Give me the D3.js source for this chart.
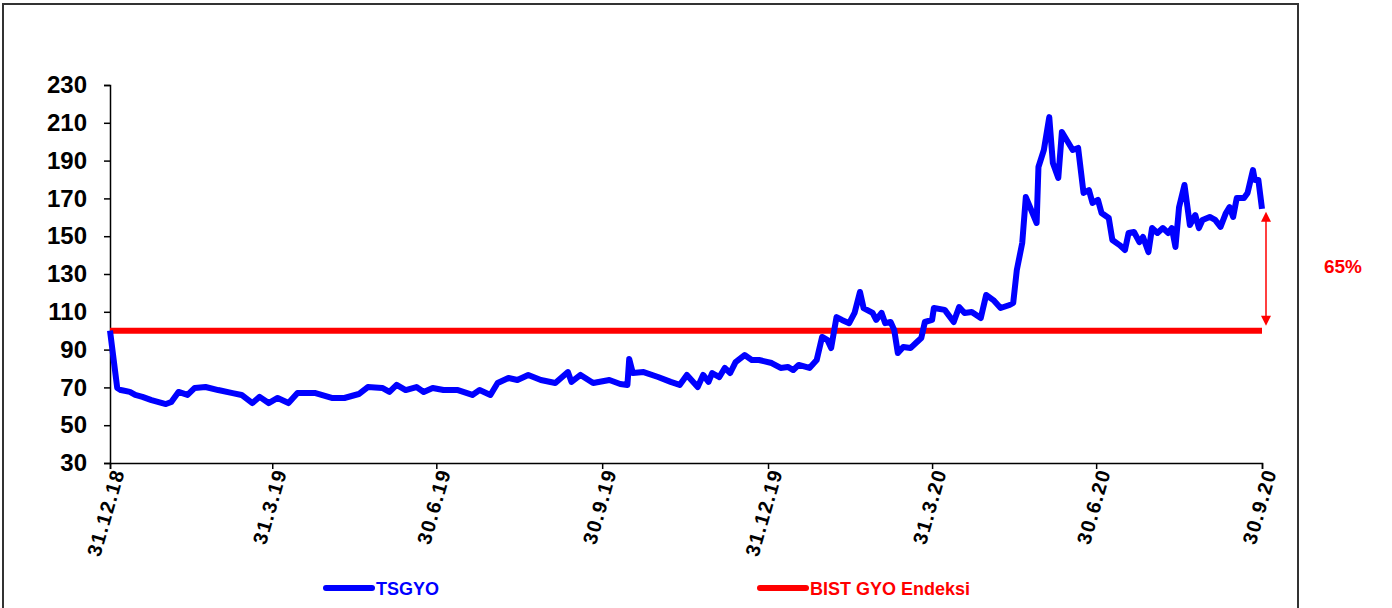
<!DOCTYPE html>
<html>
<head>
<meta charset="utf-8">
<script src="https://cdn.jsdelivr.net/npm/d3@7"></script>
<style>
  body { margin: 0; background: #fff; }
  text { font-family: "Liberation Sans", Arial, sans-serif; }
</style>
</head>
<body>
<div class="chart"></div>
<script>
// TSGYO price series
const tsgyoDates = [
  "2018-12-31","2019-01-04","2019-01-06","2019-01-11","2019-01-14","2019-01-18","2019-01-23","2019-01-31",
  "2019-02-03","2019-02-07","2019-02-12","2019-02-16","2019-02-22","2019-03-01","2019-03-09","2019-03-14",
  "2019-03-20","2019-03-24","2019-03-29","2019-04-03","2019-04-09","2019-04-14","2019-04-24","2019-05-03",
  "2019-05-10","2019-05-18","2019-05-23","2019-05-31","2019-06-04","2019-06-08","2019-06-13","2019-06-19",
  "2019-06-23","2019-06-28","2019-07-04","2019-07-12","2019-07-20","2019-07-24","2019-07-30","2019-08-03",
  "2019-08-09","2019-08-14","2019-08-20","2019-08-27","2019-09-04","2019-09-11","2019-09-13","2019-09-18",
  "2019-09-25","2019-10-04","2019-10-10","2019-10-14","2019-10-15","2019-10-17","2019-10-23","2019-10-31",
  "2019-11-07","2019-11-12","2019-11-16","2019-11-22","2019-11-25","2019-11-28","2019-11-30","2019-12-04",
  "2019-12-07","2019-12-10","2019-12-13","2019-12-18","2019-12-22","2019-12-26","2020-01-02","2020-01-07",
  "2020-01-11","2020-01-14","2020-01-17","2020-01-23","2020-01-27","2020-01-30","2020-02-02","2020-02-04",
  "2020-02-07","2020-02-10","2020-02-14","2020-02-17","2020-02-20","2020-02-22","2020-02-27","2020-02-29",
  "2020-03-03","2020-03-05","2020-03-08","2020-03-10","2020-03-12","2020-03-15","2020-03-19","2020-03-22",
  "2020-03-25","2020-03-27","2020-03-31","2020-04-01","2020-04-07","2020-04-12","2020-04-15","2020-04-18",
  "2020-04-22","2020-04-27","2020-04-30","2020-05-04","2020-05-08","2020-05-13","2020-05-15","2020-05-17",
  "2020-05-20","2020-05-22","2020-05-28","2020-05-29","2020-06-01","2020-06-04","2020-06-06","2020-06-09",
  "2020-06-11","2020-06-17","2020-06-20","2020-06-23","2020-06-26","2020-06-28","2020-07-01","2020-07-03",
  "2020-07-07","2020-07-09","2020-07-13","2020-07-16","2020-07-18","2020-07-21","2020-07-24","2020-07-26",
  "2020-07-29","2020-07-31","2020-08-03","2020-08-06","2020-08-09","2020-08-11","2020-08-13","2020-08-15",
  "2020-08-18","2020-08-21","2020-08-24","2020-08-26","2020-08-28","2020-09-01","2020-09-04","2020-09-07",
  "2020-09-10","2020-09-12","2020-09-14","2020-09-16","2020-09-20","2020-09-22","2020-09-25","2020-09-26",
  "2020-09-28","2020-09-30"
];
const tsgyoValues = [
  100, 69.7, 68.6, 67.6, 66, 65, 63.3, 61.2,
  62.3, 67.6, 66, 69.7, 70.2, 68.6, 67, 66,
  61.7, 65, 61.7, 64.4, 61.7, 67, 67, 64.4,
  64.4, 66.5, 70.2, 69.7, 67.6, 71.3, 68.6, 70.2,
  67.6, 69.7, 68.6, 68.6, 66, 68.6, 66, 72.3,
  75, 73.9, 76.6, 73.9, 72.3, 78.1, 72.9, 76.6,
  72.3, 73.9, 71.8, 71.3, 85, 77.6, 78.1, 75.5,
  72.9, 71.3, 76.6, 70.2, 76.6, 72.9, 77.6, 75.5,
  80.3, 77.6, 83.4, 87.1, 84.5, 84.5, 82.9, 80.3,
  80.8, 79.2, 81.9, 80.3, 84.5, 96.7, 95, 90.8,
  107.2, 105.7, 104, 109.4, 120.5, 112, 109.4, 105.7,
  109.4, 104, 104.6, 100.4, 88.2, 91.4, 90.8, 93.5,
  96.1, 104.6, 105.7, 112, 111, 104.6, 112.5, 109.4,
  109.9, 106.7, 118.9, 116.2, 112, 113.6, 114.7, 132.1,
  146.4, 170.7, 157, 186.6, 195.6, 213, 188.7, 180.8,
  205.1, 195.6, 196.7, 172.9, 174.4, 167.6, 169.2, 162.3,
  159.6, 148, 145.3, 142.7, 151.7, 152.2, 146.9, 149.6,
  141.6, 154.3, 151.7, 154.3, 151.7, 154.3, 144.3, 165.4,
  177.1, 155.9, 161.2, 154.3, 158.6, 160.2, 158.6, 154.9,
  162.3, 165.4, 160.2, 170.2, 170.2, 172.9, 185, 179.7,
  179.7, 164.5
];

// BIST GYO Endeksi, rebased to 100
const bistDates = ["2018-12-31", "2020-09-30"];
const bistValues = [100, 100];

const yTicks = [30, 50, 70, 90, 110, 130, 150, 170, 190, 210, 230];
const xTickDates = ["2018-12-31","2019-03-31","2019-06-30","2019-09-30","2019-12-31","2020-03-31","2020-06-30","2020-09-30"];
const xTickLabels = ["31.12.18","31.3.19","30.6.19","30.9.19","31.12.19","31.3.20","30.6.20","30.9.20"];

const seriesNames = ["TSGYO", "BIST GYO Endeksi"];
const seriesColors = ["#0000ff", "#ff0000"];
const diffLabel = "65%";

const parse = d3.timeParse("%Y-%m-%d");
const tsgyo = tsgyoDates.map((d, i) => ({date: parse(d), value: tsgyoValues[i]}));
const bist = bistDates.map((d, i) => ({date: parse(d), value: bistValues[i]}));

const width = 1392;
const height = 608;
const svg = d3.select('.chart')
  .append('svg')
  .attr('width', width)
  .attr('height', height);

// outer frame
svg.append("rect")
  .attr("x", 3).attr("y", 4)
  .attr("width", 1295).attr("height", 640)
  .attr("fill", "none")
  .attr("stroke", "#333")
  .attr("stroke-width", 2);

const x = d3.scaleTime()
  .domain([parse("2018-12-31"), parse("2020-09-30")])
  .range([110, 1262]);
const y = d3.scaleLinear()
  .domain([30, 230])
  .range([463, 85]);

// y axis
const yAxis = svg.append("g")
  .attr("transform", "translate(110,0)")
  .call(d3.axisLeft(y).tickValues(yTicks).tickSize(6).tickPadding(17));
yAxis.selectAll("text")
  .attr("font-size", 24)
  .attr("font-weight", "bold")
  .attr("fill", "#000");

// x axis
const xAxis = svg.append("g")
  .attr("transform", "translate(0,463)")
  .call(d3.axisBottom(x)
    .tickValues(xTickDates.map(parse))
    .tickSize(6)
    .tickFormat((d, i) => xTickLabels[i]));
xAxis.selectAll("text")
  .attr("font-size", 20)
  .attr("font-weight", "bold")
  .attr("letter-spacing", 1.5)
  .attr("fill", "#000")
  .attr("text-anchor", "end")
  .attr("dy", "0.35em")
  .attr("transform", "translate(-1,4) rotate(-74)");

svg.selectAll(".domain, .tick line")
  .attr("stroke", "#000")
  .attr("stroke-width", 1.5);

const line = d3.line()
  .x(d => x(d.date))
  .y(d => y(d.value));

svg.append("path")
  .datum(bist)
  .attr("d", line)
  .attr("fill", "none")
  .attr("stroke", seriesColors[1])
  .attr("stroke-width", 6);

svg.append("path")
  .datum(tsgyo)
  .attr("d", line)
  .attr("fill", "none")
  .attr("stroke", seriesColors[0])
  .attr("stroke-width", 6)
  .attr("stroke-linejoin", "round");

// difference arrow
const last = tsgyo[tsgyo.length - 1];
const ax = x(last.date) + 4;
const yTop = y(last.value) + 3;
const yBot = y(bistValues[bistValues.length - 1]) - 5;

svg.append("line")
  .attr("x1", ax).attr("x2", ax)
  .attr("y1", yTop + 8).attr("y2", yBot - 8)
  .attr("stroke", seriesColors[1])
  .attr("stroke-width", 1.5);
svg.append("path")
  .attr("d", `M${ax},${yTop} L${ax - 5},${yTop + 10} L${ax + 5},${yTop + 10} Z`)
  .attr("fill", seriesColors[1]);
svg.append("path")
  .attr("d", `M${ax},${yBot} L${ax - 5},${yBot - 10} L${ax + 5},${yBot - 10} Z`)
  .attr("fill", seriesColors[1]);

svg.append("text")
  .text(diffLabel)
  .attr("x", 1343)
  .attr("y", (yTop + yBot) / 2 + 4)
  .attr("text-anchor", "middle")
  .attr("font-size", 19)
  .attr("font-weight", "bold")
  .attr("fill", seriesColors[1]);

// legend
const legendX = [326, 760];
seriesNames.forEach((name, i) => {
  svg.append("line")
    .attr("x1", legendX[i]).attr("x2", legendX[i] + 46)
    .attr("y1", 588).attr("y2", 588)
    .attr("stroke", seriesColors[i])
    .attr("stroke-width", 6)
    .attr("stroke-linecap", "round");
  svg.append("text")
    .text(name)
    .attr("x", legendX[i] + 50)
    .attr("y", 595)
    .attr("font-size", 18)
    .attr("font-weight", "bold")
    .attr("fill", seriesColors[i]);
});
</script>
</body>
</html>
